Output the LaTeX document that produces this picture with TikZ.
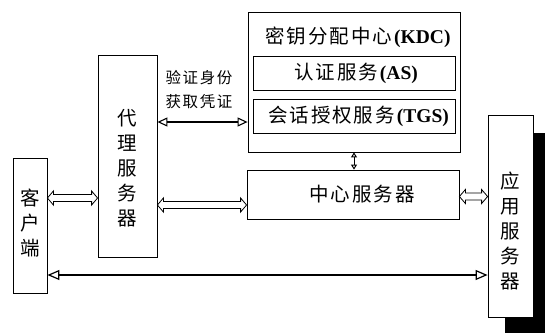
\documentclass[tikz,border=0pt]{standalone}
\usepackage{fontspec}
\setmainfont{Liberation Serif}
\newfontfamily\cjk[LetterSpace=10]{Noto Sans CJK SC}
\newfontfamily\cjkv{Noto Sans CJK SC}
\usetikzlibrary{arrows.meta,calc}
\tikzset{
  box/.style={draw, line width=0.8pt, fill=white, inner sep=0pt},
  txt/.style={inner sep=0pt, font=\fontsize{19.5}{22}\selectfont},
  vtxt/.style={inner sep=0pt, align=center, font=\fontsize{19.5}{25}\cjkv},
  lbl/.style={inner sep=0pt, font=\fontsize{15.5}{18}\cjk},
  fatline/.style={line width=0.8pt, line join=miter},
  thinarrow/.style={line width=1.3pt, {Triangle[open,length=10pt,width=9pt,line width=1.1pt]}-{Triangle[open,length=10pt,width=9pt,line width=1.1pt]}},
  bigarrow/.style={line width=1.8pt, {Triangle[open,length=12pt,width=10pt,line width=1.2pt]}-{Triangle[open,length=12pt,width=10pt,line width=1.2pt]}},
  smallarrow/.style={line width=1pt, {Triangle[open,length=5pt,width=6pt]}-{Triangle[open,length=5pt,width=6pt]}}
}
\newcommand\fatarrow[2]{\draw[fatline] let \p1=(#1), \p2=(#2) in
  (\x1,\y1) -- (\x1+6pt,\y1+7pt) -- (\x1+6pt,\y1+3.5pt) -- (\x2-6pt,\y1+3.5pt) -- (\x2-6pt,\y1+7pt)
  -- (\x2,\y1) -- (\x2-6pt,\y1-7pt) -- (\x2-6pt,\y1-3.5pt) -- (\x1+6pt,\y1-3.5pt) -- (\x1+6pt,\y1-7pt) -- cycle;}
\begin{document}
\begin{tikzpicture}[x=1pt,y=-1pt]
\useasboundingbox (0,0) rectangle (545,333);
% boxes
\node[box, minimum width=34pt, minimum height=135pt] (client) at (30,225.5) {};
\node[box, minimum width=59pt, minimum height=202pt] (proxy) at (127.5,156) {};
\node[box, minimum width=212pt, minimum height=140pt] (kdc) at (354,82) {};
\node[box, minimum width=202pt, minimum height=34pt] (as) at (354,73) {};
\node[box, minimum width=202pt, minimum height=34pt] (tgs) at (354,116) {};
\node[box, minimum width=212pt, minimum height=49pt] (central) at (353,194.5) {};
% shadow of app server
\fill[black] (533,133) rectangle (545,333);
\fill[black] (505,317) rectangle (545,333);
\node[box, minimum width=45pt, minimum height=202pt] (app) at (510.5,216) {};
% texts
\node[vtxt] (clientT) at (30,223) {客\\户\\端};
\node[vtxt] (proxyT) at (127.5,168) {代\\理\\服\\务\\器};
\node[vtxt] (appT) at (510.5,231) {应\\用\\服\\务\\器};
\node[txt] (kdcT) at (358,37) {{\cjk 密钥分配中心}\textbf{(KDC)}};
\node[txt] (asT) at (356,73) {{\cjk 认证服务}\textbf{(AS)}};
\node[txt] (tgsT) at (358.5,116) {{\cjk 会话授权服务}\textbf{(TGS)}};
\node[txt] (centralT) at (362,194.5) {\cjk 中心服务器};
\node[lbl] (l1) at (199,78) {验证身份};
\node[lbl] (l2) at (199,102) {获取凭证};
% connectors
\fatarrow{[yshift=27.5pt]client.east}{proxy.west}
\fatarrow{[yshift=-49pt]proxy.east}{central.west}
\fatarrow{[yshift=-2pt]central.east}{app.west}
\coordinate (v1) at ([yshift=34pt]proxy.east);
\draw[thinarrow] (v1) -- (v1 -| kdc.west);
\coordinate (b1) at ([yshift=-49.5pt]client.east);
\draw[bigarrow] (b1) -- (b1 -| app.west);
\draw[smallarrow] (kdc.south) -- (kdc.south |- central.north);
\end{tikzpicture}
\end{document}
